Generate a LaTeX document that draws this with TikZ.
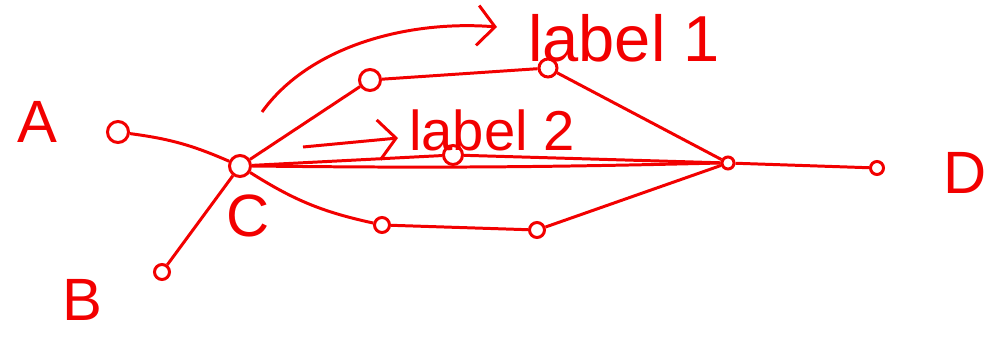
\documentclass[tikz,border=0pt]{standalone}
\usepackage{fontspec}
\setmainfont{Liberation Sans}
\usetikzlibrary{arrows.meta}
\definecolor{inkRed}{HTML}{F20000}

\begin{document}
\begin{tikzpicture}[
    % Global Styles
    x=0.02cm, y=-0.02cm,
    line width=1.7pt,
    % Node Styles
    dot/.style={
        circle,
        draw=inkRed,
        line width=1.7pt,
        minimum size=0.3cm,
        inner sep=0pt
    },
    bigdot/.style={
        dot,
        minimum size=0.42cm
    },
    letter/.style={
        text=inkRed,
        font=\fontsize{34}{38}\selectfont
    },
    tag/.style={
        text=inkRed,
        font=\fontsize{37}{41}\selectfont
    },
    % Line Styles
    wire/.style={
        draw=inkRed,
        line width=1.7pt
    },
    arrow/.style={
        wire,
        -{Straight Barb[length=3.5mm, width=8mm, line width=1.7pt]}
    }
]
    \useasboundingbox (0,0) rectangle (986,341);

    % --- Nodes ---

    % Letters
    \node[letter] (la) at (37,122) {A};
    \node[letter] (lb) at (82,300) {B};
    \node[letter] (lc) at (248,216) {C};
    \node[letter] (ld) at (965,173) {D};

    % Endpoints
    \node[bigdot] (a) at (118,132) {};
    \node[dot] (b) at (162,272) {};
    \node[bigdot] (c) at (240,166) {};
    \node[dot, minimum size=0.24cm] (j) at (728,163) {};
    \node[dot, minimum size=0.26cm] (d) at (877,168) {};

    % Upper branch
    \node[bigdot] (t1) at (370,80) {};
    \node[dot, minimum size=0.36cm] (t2) at (548,68) {};

    % Middle branch
    \node[dot, minimum size=0.38cm] (m) at (453,155) {};

    % Lower branch
    \node[dot] (b1) at (382,225) {};
    \node[dot] (b2) at (537,230) {};

    % Labels
    \node[tag] (l1) at (624,38) {label 1};
    \node[tag, font=\fontsize{32}{36}\selectfont] (l2) at (492,130) {label 2};

    % Arrow ends
    \coordinate (arcs) at (262,112);
    \coordinate (arce) at (497,27);
    \coordinate (arrs) at (303,147);
    \coordinate (arre) at (398,138);

    % --- Edges ---

    % Inputs into C
    \draw[wire] (a) to[bend left=8] (c);
    \draw[wire] (b) -- (c);

    % Upper branch
    \draw[wire] (c) -- (t1);
    \draw[wire] (t1) -- (t2);
    \draw[wire] (t2) -- (j);

    % Middle branch
    \draw[wire] (c) -- (m);
    \draw[wire] (m) -- (j);
    \draw[wire] (c.east) to[bend right=1] (j.west);

    % Lower branch
    \draw[wire] (c) to[bend right=10] (b1);
    \draw[wire] (b1) -- (b2);
    \draw[wire] (b2) -- (j);

    % Out to D
    \draw[wire] (j) -- (d);

    % Label arrows
    \draw[arrow] (arcs) .. controls (310,45) and (410,20) .. (arce);
    \draw[arrow] (arrs) -- (arre);

\end{tikzpicture}
\end{document}
